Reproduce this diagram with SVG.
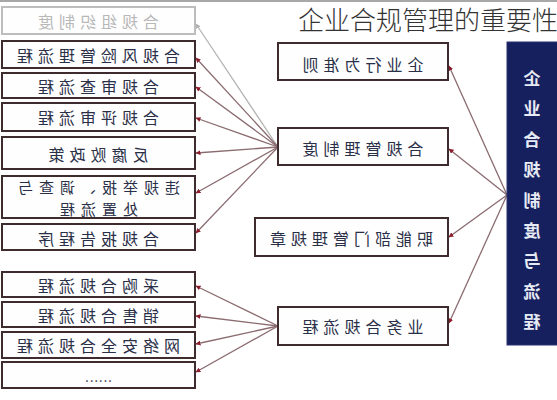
<svg xmlns="http://www.w3.org/2000/svg" width="557" height="400" viewBox="0 0 557 400">
<style>
.box{fill:#fefefe;stroke:#3e2b2e;stroke-width:2}
.gbox{fill:#fefefe;stroke:#bdbdbd;stroke-width:2}
.t{font-family:"Noto Sans CJK SC","Noto Sans CJK JP",sans-serif;font-size:16px;fill:#2a2f48;letter-spacing:5px;text-anchor:middle;dominant-baseline:central}
.gt{fill:#b8b8b8}
.vt{font-family:"Noto Sans CJK SC",sans-serif;font-size:17px;font-weight:bold;fill:#e6eaf4;text-anchor:middle;dominant-baseline:central}
.title{font-family:"Noto Sans CJK SC",sans-serif;font-size:26px;font-weight:300;fill:#333}
.ln{stroke:#8a6b70;stroke-width:1.3;fill:none}
.gln{stroke:#b5b5b5;stroke-width:1.3;fill:none}
</style>
<defs>
<marker id="ah" viewBox="0 0 10 10" refX="9" refY="5" markerWidth="5" markerHeight="5" orient="auto" markerUnits="userSpaceOnUse">
<path d="M0,0 L10,5 L0,10 z" fill="#8b1c2c"/>
</marker>
<marker id="gah" viewBox="0 0 10 10" refX="9" refY="5" markerWidth="5" markerHeight="5" orient="auto" markerUnits="userSpaceOnUse">
<path d="M0,0 L10,5 L0,10 z" fill="#b0b0b0"/>
</marker>
</defs>
<rect x="0" y="0" width="557" height="400" fill="#ffffff"/>
<line x1="0" y1="1" x2="557" y2="1" stroke="#a8a8a8" stroke-width="2"/>
<text class="title" x="298" y="30">企业合规管理的重要性</text>

<g id="connectors">
<line class="ln" x1="507" y1="195" x2="449" y2="66" marker-end="url(#ah)"/>
<line class="ln" x1="507" y1="195" x2="449" y2="149" marker-end="url(#ah)"/>
<line class="ln" x1="507" y1="195" x2="449" y2="237" marker-end="url(#ah)"/>
<line class="ln" x1="507" y1="195" x2="449" y2="323" marker-end="url(#ah)"/>
<line class="gln" x1="278" y1="147" x2="196" y2="24" marker-end="url(#gah)"/>
<line class="ln" x1="278" y1="147" x2="196" y2="58" marker-end="url(#ah)"/>
<line class="ln" x1="278" y1="147" x2="196" y2="87" marker-end="url(#ah)"/>
<line class="ln" x1="278" y1="147" x2="196" y2="118" marker-end="url(#ah)"/>
<line class="ln" x1="278" y1="147" x2="196" y2="153" marker-end="url(#ah)"/>
<line class="ln" x1="278" y1="147" x2="196" y2="193" marker-end="url(#ah)"/>
<line class="ln" x1="278" y1="147" x2="196" y2="233" marker-end="url(#ah)"/>
<line class="ln" x1="278" y1="326" x2="196" y2="286" marker-end="url(#ah)"/>
<line class="ln" x1="278" y1="326" x2="196" y2="316" marker-end="url(#ah)"/>
<line class="ln" x1="278" y1="326" x2="196" y2="344" marker-end="url(#ah)"/>
<line class="ln" x1="278" y1="326" x2="196" y2="372" marker-end="url(#ah)"/>
</g>

<g id="main">
<rect x="507" y="42" width="52" height="303" fill="#17205e" stroke="#2a3170" stroke-width="1"/>
<g transform="translate(532,0) scale(-1,1)">
<text class="vt" x="0" y="77">企</text>
<text class="vt" x="0" y="107">业</text>
<text class="vt" x="0" y="138">合</text>
<text class="vt" x="0" y="168">规</text>
<text class="vt" x="0" y="199">制</text>
<text class="vt" x="0" y="229">度</text>
<text class="vt" x="0" y="259">与</text>
<text class="vt" x="0" y="290">流</text>
<text class="vt" x="0" y="320">程</text>
</g>
</g>

<g id="m1"><rect class="box" x="278" y="43" width="170" height="37"/>
<text class="t" transform="translate(360.5,0) scale(-1,1)" x="0" y="64">企业行为准则</text></g>
<g id="m2"><rect class="box" x="278" y="128" width="170" height="37"/>
<text class="t" transform="translate(360.5,0) scale(-1,1)" x="0" y="148">合规管理制度</text></g>
<g id="m3"><rect class="box" x="255" y="218" width="193" height="38"/>
<text class="t" transform="translate(349,0) scale(-1,1)" x="0" y="238">职能部门管理规章</text></g>
<g id="m4"><rect class="box" x="278" y="307" width="170" height="38"/>
<text class="t" transform="translate(360.5,0) scale(-1,1)" x="0" y="326">业务合规流程</text></g>

<g id="l1"><rect class="gbox" x="2" y="7" width="193" height="27"/>
<text class="t gt" transform="translate(96,0) scale(-1,1)" x="0" y="21">合规组织制度</text></g>
<g id="l2"><rect class="box" x="2" y="41" width="193" height="27"/>
<text class="t" transform="translate(96,0) scale(-1,1)" x="0" y="55">合规风险管理流程</text></g>
<g id="l3"><rect class="box" x="2" y="73" width="193" height="25"/>
<text class="t" transform="translate(96,0) scale(-1,1)" x="0" y="86">合规审查流程</text></g>
<g id="l4"><rect class="box" x="2" y="103" width="193" height="28"/>
<text class="t" transform="translate(96,0) scale(-1,1)" x="0" y="117">合规评审流程</text></g>
<g id="l5"><rect class="box" x="2" y="137" width="193" height="32"/>
<text class="t" transform="translate(96,0) scale(-1,1)" x="0" y="154">反腐败政策</text></g>
<g id="l6"><rect class="box" x="2" y="176" width="193" height="42"/>
<text class="t" transform="translate(96,0) scale(-1,1)" x="0" y="186.5" style="font-size:15px;letter-spacing:6px">违规举报、调查与</text>
<text class="t" transform="translate(96,0) scale(-1,1)" x="0" y="208" style="font-size:15px;letter-spacing:6px">处置流程</text></g>
<g id="l7"><rect class="box" x="2" y="224" width="193" height="26"/>
<text class="t" transform="translate(96,0) scale(-1,1)" x="0" y="238">合规报告程序</text></g>
<g id="l8"><rect class="box" x="2" y="272" width="193" height="25"/>
<text class="t" transform="translate(96,0) scale(-1,1)" x="0" y="285">采购合规流程</text></g>
<g id="l9"><rect class="box" x="2" y="302" width="193" height="25"/>
<text class="t" transform="translate(96,0) scale(-1,1)" x="0" y="315">销售合规流程</text></g>
<g id="l10"><rect class="box" x="2" y="332" width="193" height="26"/>
<text class="t" transform="translate(96,0) scale(-1,1)" x="0" y="345">网络安全合规流程</text></g>
<g id="l11"><rect class="box" x="2" y="362" width="193" height="26"/>
<text class="t" transform="translate(98,0) scale(-1,1)" x="0" y="376" style="letter-spacing:1px;font-size:13px">......</text></g>
</svg>
